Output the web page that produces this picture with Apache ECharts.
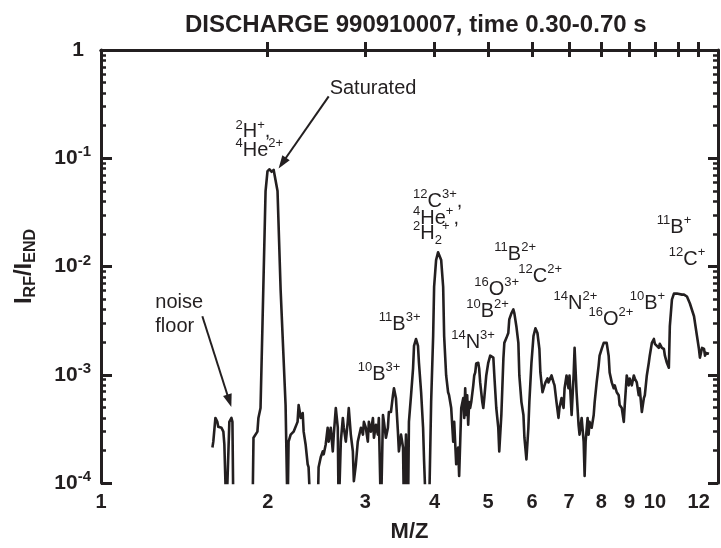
<!DOCTYPE html>
<html><head><meta charset="utf-8">
<script src="https://cdn.jsdelivr.net/npm/echarts@6/dist/echarts.min.js"></script>
<style>html,body{margin:0;padding:0;background:#fff}#c{width:721px;height:548px}</style>
</head><body><div id="c"></div>
<script>
// ---- data ----
const titleText = 'DISCHARGE 990910007, time 0.30-0.70 s';
const mz = [1.589,1.595,1.609,1.622,1.628,1.650,1.663,1.670,1.684,1.698,1.705,1.720,1.727,1.734,1.877,1.885,1.916,1.924,1.941,1.957,1.982,1.998,2.015,2.032,2.050,2.066,2.083,2.110,2.154,2.172,2.181,2.200,2.227,2.264,2.274,2.294,2.313,2.322,2.341,2.361,2.370,2.391,2.421,2.461,2.471,2.493,2.514,2.524,2.545,2.566,2.577,2.599,2.621,2.632,2.654,2.676,2.686,2.710,2.733,2.744,2.767,2.789,2.801,2.825,2.849,2.861,2.885,2.908,2.946,2.971,2.983,3.007,3.032,3.045,3.071,3.097,3.110,3.136,3.161,3.174,3.202,3.229,3.242,3.269,3.296,3.309,3.338,3.366,3.380,3.408,3.436,3.450,3.481,3.510,3.524,3.553,3.568,3.583,3.597,3.629,3.659,3.674,3.705,3.735,3.750,3.784,3.815,3.831,3.863,3.910,3.945,3.978,3.994,4.027,4.060,4.113,4.147,4.164,4.199,4.233,4.250,4.288,4.324,4.342,4.378,4.414,4.432,4.471,4.508,4.527,4.545,4.564,4.583,4.602,4.620,4.639,4.661,4.700,4.719,4.739,4.758,4.798,4.817,4.837,4.880,4.900,4.920,4.961,5.002,5.043,5.109,5.130,5.172,5.215,5.236,5.282,5.327,5.348,5.393,5.437,5.459,5.507,5.553,5.576,5.622,5.669,5.692,5.742,5.790,5.814,5.862,5.910,5.934,5.986,6.037,6.086,6.137,6.187,6.212,6.268,6.320,6.346,6.398,6.424,6.507,6.562,6.589,6.643,6.698,6.725,6.784,6.841,6.870,6.926,6.983,7.012,7.074,7.133,7.162,7.221,7.281,7.311,7.375,7.437,7.467,7.498,7.560,7.591,7.622,7.689,7.754,7.785,7.850,7.914,7.946,8.016,8.084,8.184,8.251,8.285,8.358,8.428,8.463,8.533,8.603,8.638,8.714,8.787,8.823,8.896,8.969,9.006,9.085,9.161,9.199,9.275,9.351,9.389,9.472,9.552,9.591,9.670,9.750,9.789,9.875,9.958,9.999,10.082,10.165,10.206,10.296,10.382,10.425,10.511,10.598,10.641,10.734,10.824,10.869,10.958,11.048,11.192,11.286,11.426,11.567,11.766,11.912,12.010,12.059,12.165,12.267,12.318,12.368,12.470,12.521];
const intensity = [2.13e-4,2.41e-4,3.99e-4,3.67e-4,3.31e-4,3.24e-4,2.98e-4,2.27e-4,5e-5,5e-5,3.67e-4,3.99e-4,3.67e-4,5e-5,5e-5,2.62e-4,2.98e-4,3.99e-4,4.93e-4,2.99e-3,4.98e-2,7.6e-2,7.9e-2,7.5e-2,7.8e-2,7.6e-2,4.98e-2,6.11e-3,5.25e-4,5e-5,2.41e-4,2.80e-4,2.98e-4,3.67e-4,5.25e-4,3.99e-4,4.43e-4,2.98e-4,2.27e-4,1.49e-4,1.40e-4,5e-5,5e-5,5e-5,1.40e-4,1.73e-4,1.96e-4,1.84e-4,2.27e-4,3.24e-4,2.41e-4,3.24e-4,1.96e-4,2.80e-4,4.93e-4,3.24e-4,5e-5,2.41e-4,3.99e-4,3.24e-4,2.41e-4,3.67e-4,4.93e-4,2.80e-4,1.96e-4,1.04e-4,1.49e-4,2.41e-4,3.24e-4,2.80e-4,3.67e-4,3.24e-4,2.41e-4,3.67e-4,2.98e-4,3.99e-4,2.62e-4,3.45e-4,2.80e-4,3.99e-4,5e-5,4.25e-4,3.67e-4,2.62e-4,3.24e-4,4.53e-4,4.53e-4,6.47e-4,7.50e-4,6.08e-4,2.98e-4,1.96e-4,2.80e-4,2.13e-4,5e-5,2.80e-4,1.40e-4,5e-5,3.67e-4,6.47e-4,1.14e-3,1.85e-3,2.14e-3,1.85e-3,1.29e-3,6.89e-4,3.24e-4,1.59e-4,5e-5,5e-5,5.59e-4,2.28e-3,6.50e-3,1.146e-2,1.355e-2,1.146e-2,6.50e-3,2.28e-3,9.85e-4,6.89e-4,6.47e-4,4.93e-4,2.41e-4,3.67e-4,1.49e-4,2.13e-4,1.16e-4,4.93e-4,6.08e-4,3.99e-4,7.50e-4,4.25e-4,6.47e-4,3.45e-4,5.59e-4,4.93e-4,5.59e-4,7.98e-4,9.85e-4,1.05e-3,1.27e-3,1.29e-3,1.14e-3,8.50e-4,5.59e-4,4.93e-4,6.08e-4,9.85e-4,1.29e-3,1.50e-3,1.44e-3,9.85e-4,4.93e-4,3.24e-4,1.96e-4,4.25e-4,1.41e-3,1.97e-3,2.18e-3,2.43e-3,3.25e-3,3.69e-3,4.01e-3,3.69e-3,2.81e-3,1.97e-3,9.85e-4,5.59e-4,4.25e-4,2.62e-4,1.65e-4,3.24e-4,5.59e-4,1.29e-3,2.28e-3,2.69e-3,2.43e-3,1.73e-3,1.05e-3,6.89e-4,7.98e-4,8.50e-4,9.24e-4,8.50e-4,9.85e-4,8.50e-4,7.98e-4,5.59e-4,3.99e-4,4.93e-4,6.08e-4,4.93e-4,7.50e-4,9.85e-4,7.50e-4,9.85e-4,4.25e-4,9.85e-4,1.77e-3,6.89e-4,3.45e-4,2.80e-4,3.99e-4,2.41e-4,1.16e-4,2.41e-4,3.99e-4,2.80e-4,3.67e-4,3.24e-4,4.25e-4,5.59e-4,8.50e-4,1.21e-3,1.50e-3,1.73e-3,1.97e-3,1.97e-3,1.50e-3,1.05e-3,8.50e-4,7.50e-4,7.98e-4,6.89e-4,6.47e-4,5.25e-4,4.93e-4,3.67e-4,5.25e-4,9.85e-4,7.98e-4,9.24e-4,7.98e-4,9.85e-4,9.24e-4,8.50e-4,6.47e-4,7.50e-4,4.53e-4,6.08e-4,6.47e-4,9.85e-4,1.29e-3,1.50e-3,1.97e-3,2.14e-3,1.93e-3,1.97e-3,1.77e-3,1.93e-3,1.77e-3,1.73e-3,1.50e-3,1.29e-3,1.16e-3,2.81e-3,4.95e-3,5.62e-3,5.86e-3,5.62e-3,5.50e-3,5.50e-3,5.50e-3,5.28e-3,4.55e-3,3.47e-3,2.28e-3,1.73e-3,1.44e-3,1.77e-3,1.73e-3,1.50e-3,1.59e-3,1.53e-3,1.56e-3];
const noiseFloor = 5e-4;
const xMin = 1, xMax = 13;
const yMin = 1e-4, yMax = 1;
const xTickValues = [2,3,4,5,6,7,8,9,10,11,12];
const xLabelValues = [1,2,3,4,5,6,7,8,9,10,12];
const minorMultipliers = [2,3,4,5,6,7,8,9];
const decades = [-4,-3,-2,-1];
// annotation labels (rich text), anchored at left edge / text middle
const annoText = [
  '{n|Saturated}',
  '{sup|2}{n|H}{sup|+}{n|,}',
  '{sup|4}{n|He}{sup|2+}',
  '{n|noise}',
  '{n|floor}',
  '{sup|12}{n|C}{sup|3+}{n|,}',
  '{sup|4}{n|He}{sup|+}{n|,}',
  '{sup|2}{n|H}{sub|2}{sup|+}',
  '{sup|11}{n|B}{sup|2+}',
  '{sup|12}{n|C}{sup|2+}',
  '{sup|16}{n|O}{sup|3+}',
  '{sup|10}{n|B}{sup|2+}',
  '{sup|14}{n|N}{sup|3+}',
  '{sup|11}{n|B}{sup|3+}',
  '{sup|10}{n|B}{sup|3+}',
  '{sup|14}{n|N}{sup|2+}',
  '{sup|16}{n|O}{sup|2+}',
  '{sup|10}{n|B}{sup|+}',
  '{sup|11}{n|B}{sup|+}',
  '{sup|12}{n|C}{sup|+}'
];
const annoMz = [2.587,1.749,1.749,1.253,1.253,3.659,3.659,3.659,5.130,5.669,4.719,4.564,4.288,3.174,2.908,6.562,7.591,9.006,10.082,10.598];
const annoI  = [0.441,0.175,0.118,0.00465,0.00281,0.0395,0.0277,0.0202,0.0130,0.00802,0.00611,0.00385,0.00197,0.00293,0.00100,0.00455,0.00325,0.00455,0.0229,0.0117];
// arrows (from text to target)
const arrowFromMz = [2.577, 1.524];
const arrowFromI  = [0.373, 0.00347];
const arrowToMz   = [2.125, 1.705];
const arrowToI    = [0.0903, 0.000573];

// ---- chart ----
const INK = '#231f20';
const FONT = '"Liberation Sans", Arial, Helvetica, sans-serif';
const L = Math.log10;
const chart = echarts.init(document.getElementById('c'), null, {renderer: 'canvas'});

const minorTicks = [];
decades.forEach(d => minorMultipliers.forEach(k => minorTicks.push(d + L(k))));

const annoRich = {
  n: {fontSize: 20, lineHeight: 27, fontFamily: FONT, color: INK, opacity: 1},
  sup: {fontSize: 13, lineHeight: 13, height: 13, verticalAlign: 'top', fontFamily: FONT, color: INK, opacity: 1},
  sub: {fontSize: 13, lineHeight: 13, height: 13, verticalAlign: 'bottom', fontFamily: FONT, color: INK, opacity: 1}
};

const baseY = {
  type: 'value', min: L(yMin), max: L(yMax), interval: 1,
  splitLine: {show: false}
};
const baseX = {
  type: 'value', min: L(xMin), max: L(xMax),
  splitLine: {show: false}
};

const markData = [
  [{yAxis: L(noiseFloor), symbol: 'none'}, {yAxis: L(noiseFloor), symbol: 'none'}]
];
arrowFromMz.forEach((m, i) => {
  markData.push([
    {coord: [L(m), L(arrowFromI[i])], symbol: 'none'},
    {coord: [L(arrowToMz[i]), L(arrowToI[i])], symbol: 'triangle', symbolSize: [9, 13]}
  ]);
});

chart.setOption({
  animation: false,
  backgroundColor: '#fff',
  title: {
    text: titleText, left: 185, top: 13, padding: 0,
    textStyle: {fontSize: 24, fontWeight: 'bold', color: INK, fontFamily: FONT}
  },
  grid: {left: 101, right: 3, top: 50, bottom: 59, containLabel: false},
  xAxis: [
    Object.assign({}, baseX, {
      position: 'bottom',
      name: 'M/Z', nameLocation: 'middle', nameGap: 38,
      nameTextStyle: {fontSize: 22, fontWeight: 'bold', color: INK, fontFamily: FONT},
      axisLine: {show: true, lineStyle: {color: INK, width: 3}},
      axisTick: {show: true, inside: true, length: 8, lineStyle: {color: INK, width: 3}, customValues: xTickValues.map(L)},
      axisLabel: {show: true, margin: 9, fontSize: 20, fontWeight: 'bold', color: INK, fontFamily: FONT,
        customValues: xLabelValues.map(L), formatter: v => String(Math.round(Math.pow(10, v)))}
    }),
    Object.assign({}, baseX, {
      position: 'top',
      axisLine: {show: true, lineStyle: {color: INK, width: 3}},
      axisTick: {show: true, inside: true, length: 7, lineStyle: {color: INK, width: 3}, customValues: xTickValues.map(L)},
      axisLabel: {show: false}
    })
  ],
  yAxis: [
    Object.assign({}, baseY, {
      position: 'left',
      name: '{n|I}{s|RF}{n|/I}{s|END}', nameLocation: 'middle', nameRotate: 90, nameGap: 62,
      nameTextStyle: {rich: {
        n: {fontSize: 24, fontWeight: 'bold', lineHeight: 30, color: INK, fontFamily: FONT},
        s: {fontSize: 16, fontWeight: 'bold', lineHeight: 16, height: 16, verticalAlign: 'bottom', color: INK, fontFamily: FONT}
      }},
      axisLine: {show: true, lineStyle: {color: INK, width: 3}},
      axisTick: {show: true, inside: true, length: 11, lineStyle: {color: INK, width: 3}},
      axisLabel: {show: true, margin: 10,
        formatter: v => v === 0 ? '{one|1}' : '{b|10}{s|' + v + '}',
        rich: {
          one: {fontSize: 21, fontWeight: 'bold', lineHeight: 27, padding: [0, 7, 0, 0], color: INK, fontFamily: FONT},
          b: {fontSize: 21, fontWeight: 'bold', lineHeight: 27, color: INK, fontFamily: FONT},
          s: {fontSize: 15, fontWeight: 'bold', lineHeight: 15, height: 15, verticalAlign: 'top', color: INK, fontFamily: FONT}
        }}
    }),
    Object.assign({}, baseY, {
      position: 'left',
      axisLine: {show: false},
      axisTick: {show: true, inside: true, length: 5, lineStyle: {color: INK, width: 2.5}, customValues: minorTicks},
      axisLabel: {show: false}
    }),
    Object.assign({}, baseY, {
      position: 'right',
      axisLine: {show: true, lineStyle: {color: INK, width: 3}},
      axisTick: {show: true, inside: true, length: 10, lineStyle: {color: INK, width: 3}},
      axisLabel: {show: false}
    }),
    Object.assign({}, baseY, {
      position: 'right',
      axisLine: {show: false},
      axisTick: {show: true, inside: true, length: 5, lineStyle: {color: INK, width: 2.5}, customValues: minorTicks},
      axisLabel: {show: false}
    })
  ],
  series: [
    {
      name: 'spectrum', type: 'line', xAxisIndex: 0, yAxisIndex: 0,
      data: mz.map((m, i) => [L(m), L(intensity[i])]),
      symbol: 'none', showSymbol: false, clip: true, silent: true,
      lineStyle: {color: INK, width: 2.6, join: 'round'},
      markLine: {
        silent: true, animation: false,
        label: {show: false},
        lineStyle: {color: INK, width: 2, type: 'solid'},
        itemStyle: {color: INK},
        emphasis: {disabled: true},
        data: markData
      }
    },
    {
      name: 'labels', type: 'scatter', xAxisIndex: 0, yAxisIndex: 0,
      data: annoMz.map((m, i) => [L(m), L(annoI[i])]),
      symbolSize: 0, itemStyle: {color: INK, opacity: 1, borderWidth: 0}, silent: true,
      emphasis: {disabled: true},
      label: {show: true, position: 'right', distance: 0, color: INK, opacity: 1,
        formatter: p => annoText[p.dataIndex], rich: annoRich}
    }
  ]
});
</script></body></html>
